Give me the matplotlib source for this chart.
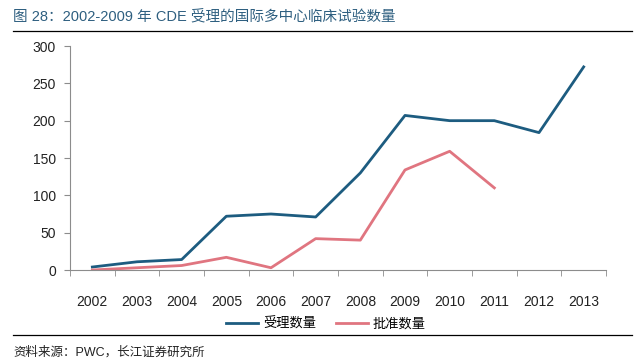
import numpy as np
import matplotlib.pyplot as plt
from matplotlib.lines import Line2D

plt.rcParams['font.family'] = ['Liberation Sans', 'Noto Sans CJK SC']

years = ['2002', '2003', '2004', '2005', '2006', '2007', '2008', '2009', '2010', '2011', '2012', '2013']
accepted = [4, 11, 14, 72, 75, 71, 130, 207, 200, 200, 184, 272]   # 受理数量
approved = [0, 3, 6, 17, 3, 42, 40, 134, 159, 110]                 # 批准数量
yticks = [0, 50, 100, 150, 200, 250, 300]

blue = '#1d5c80'
pink = '#e07580'
grey = '#8c8c8c'

fig = plt.figure(figsize=(6.4, 3.64), dpi=100)
ax = fig.add_axes([70/640, 1 - 270/364, 536/640, 224/364])

x = np.arange(len(years))
ax.plot(x, accepted, color=blue, lw=2)
ax.plot(x[:len(approved)], approved, color=pink, lw=2)

ax.set_xlim(-0.5, len(years) - 0.5)
ax.set_ylim(0, 300)
ax.set_yticks(yticks)
ax.set_xticks(x)
ax.set_xticklabels(years)
ax.set_xticks(np.arange(-0.5, len(years)), minor=True)
ax.tick_params(axis='x', which='major', length=0, pad=18, labelsize=10, colors='#222222')
ax.tick_params(axis='x', which='minor', length=4, color=grey)
ax.tick_params(axis='y', length=4, color=grey, labelsize=10, labelcolor='#222222', pad=6)
for s in ['top', 'right']:
    ax.spines[s].set_visible(False)
for s in ['left', 'bottom']:
    ax.spines[s].set_color(grey)

handles = [Line2D([], [], color=blue, lw=2), Line2D([], [], color=pink, lw=2)]
fig.legend(handles, ['受理数量', '批准数量'], loc='center', bbox_to_anchor=(326/640, 1 - 324/364),
           ncol=2, frameon=False, fontsize=9.5, handlelength=2.4, columnspacing=1.5, handletextpad=0.4)

fig.text(13/640, 1 - 16/364, '图 28：2002-2009 年 CDE 受理的国际多中心临床试验数量',
         color='#2e5f80', fontsize=10.5, va='center', ha='left')
fig.add_artist(Line2D([13/640, 632/640], [1 - 31/364, 1 - 31/364], color='black', lw=0.9))
fig.add_artist(Line2D([13/640, 632/640], [1 - 335/364, 1 - 335/364], color='black', lw=0.9))
fig.text(13/640, 1 - 352/364, '资料来源：PWC，长江证券研究所', color='#222222', fontsize=9, va='center', ha='left')

fig.savefig('out.png', dpi=100)
